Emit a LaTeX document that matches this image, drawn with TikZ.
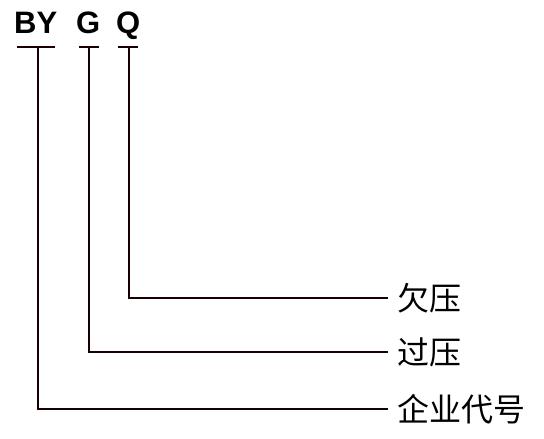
\documentclass[tikz,border=0pt]{standalone}
\usepackage{fontspec}
\setmainfont{Liberation Sans}
\newfontfamily\cjk{Noto Sans CJK SC}
\begin{document}
\begin{tikzpicture}[x=1pt,y=-1pt,
  code/.style={inner sep=0pt,anchor=base west,font=\fontsize{31}{31}\selectfont\bfseries},
  lbl/.style={inner sep=0pt,anchor=west,font=\cjk\fontsize{32}{32}\selectfont},
  ln/.style={line width=2pt,color=black!90!red}]
\useasboundingbox (0,0) rectangle (544,439);
\node[code] (by) at (14,33) {BY};
\node[code] (g) at (76,33) {G};
\node[code] (q) at (116,33) {Q};
\coordinate (bya) at (17,47); \coordinate (byb) at (55,47);
\coordinate (ga) at (79,47); \coordinate (gb) at (99,47);
\coordinate (qa) at (118,47); \coordinate (qb) at (138,47);
\draw[ln] (bya) -- (byb);
\draw[ln] (ga) -- (gb);
\draw[ln] (qa) -- (qb);
\coordinate (byt) at (37.5,47); \coordinate (gt) at (88.5,47); \coordinate (qt) at (129,47);
\node[lbl] (l1) at (397,298) {欠压};
\node[lbl] (l2) at (397,352) {过压};
\node[lbl] (l3) at (397,409) {企业代号};
\draw[ln] (qt) |- ([xshift=-9pt]l1.west);
\draw[ln] (gt) |- ([xshift=-9pt]l2.west);
\draw[ln] (byt) |- ([xshift=-9pt]l3.west);
\end{tikzpicture}
\end{document}
